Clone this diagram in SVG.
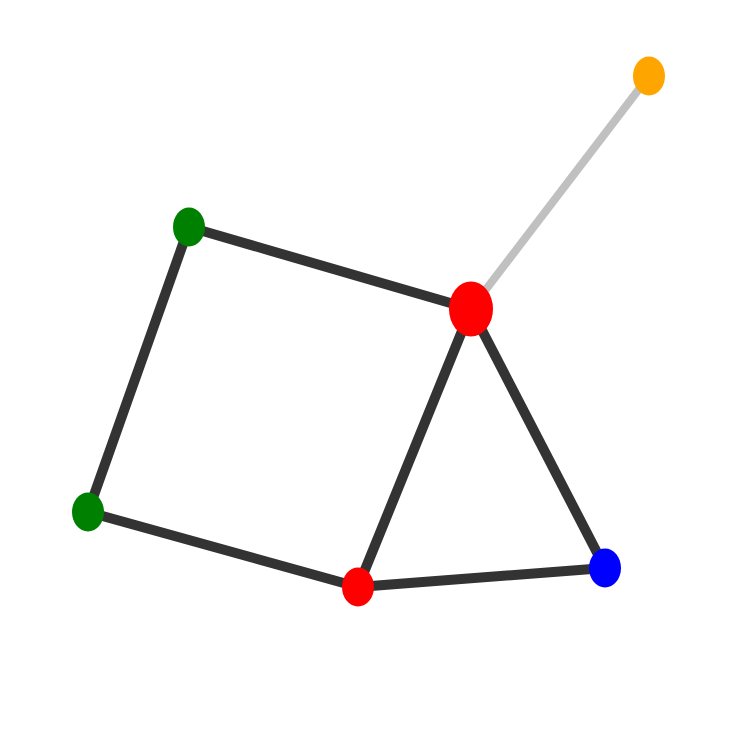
<svg xmlns="http://www.w3.org/2000/svg" width="740" height="740" viewBox="0 0 740 740">
<style>
.e{stroke:#333333;stroke-width:10;fill:none}
.g{stroke:#c0c0c0;stroke-width:8;fill:none}
</style>
<rect width="740" height="740" fill="#ffffff"/>
<g id="edges">
<line class="g" x1="471" y1="309" x2="649" y2="76"/>
<line class="e" x1="189" y1="227" x2="471" y2="309"/>
<line class="e" x1="189" y1="227" x2="88" y2="512"/>
<line class="e" x1="88" y1="512" x2="358" y2="587"/>
<line class="e" x1="358" y1="587" x2="471" y2="309"/>
<line class="e" x1="471" y1="309" x2="605" y2="568"/>
<line class="e" x1="358" y1="587" x2="605" y2="568"/>
</g>
<g id="n_orange"><ellipse cx="649" cy="76" rx="16" ry="19.5" fill="#ffa500"/></g>
<g id="n_green1"><ellipse cx="189" cy="227" rx="16" ry="19.5" fill="#008000"/></g>
<g id="n_red1"><ellipse cx="471" cy="309" rx="22" ry="27.5" fill="#ff0000"/></g>
<g id="n_green2"><ellipse cx="88" cy="512" rx="16" ry="19.5" fill="#008000"/></g>
<g id="n_red2"><ellipse cx="358" cy="587" rx="16" ry="19.5" fill="#ff0000"/></g>
<g id="n_blue"><ellipse cx="605" cy="568" rx="16" ry="19.5" fill="#0000ff"/></g>
</svg>
